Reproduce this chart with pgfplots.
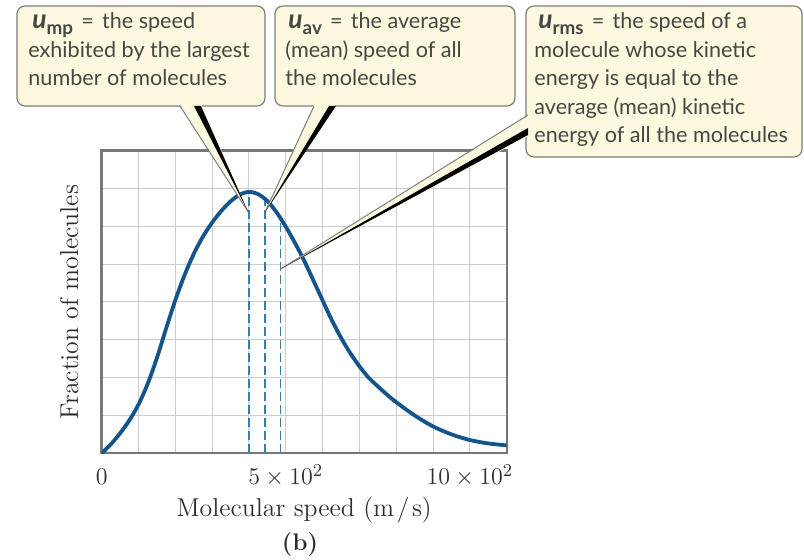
\documentclass[border=0pt]{standalone}
\usepackage{fontspec}
\usepackage{pgfplots}
\usepackage{pgfplotstable}
\pgfplotsset{compat=1.18}
\newfontfamily\lato{Lato}
\definecolor{curveblue}{RGB}{20,84,140}
\definecolor{dashblue}{RGB}{55,125,168}
\definecolor{gridgray}{RGB}{205,205,205}
\definecolor{framegray}{RGB}{120,120,120}
\definecolor{cream}{RGB}{252,249,222}
\definecolor{boxgray}{RGB}{125,125,125}
\definecolor{txtgray}{RGB}{70,70,70}
\definecolor{serifgray}{RGB}{45,45,45}

\pgfplotstableread{
x y
0 0
0.25 0.24
0.5 0.53
0.75 0.87
1 1.29
1.25 1.84
1.5 2.52
1.75 3.3
2 4.05
2.25 4.71
2.5 5.27
2.75 5.73
3 6.1
3.25 6.41
3.5 6.66
3.75 6.84
4 6.91
4.25 6.85
4.5 6.67
4.75 6.37
5 5.99
5.25 5.56
5.5 5.09
5.75 4.57
6 4.04
6.25 3.52
6.5 3.055
6.75 2.65
7 2.3
7.25 2.0
7.5 1.77
7.75 1.55
8 1.35
8.5 1.0
9 0.71
9.5 0.5
10 0.35
10.5 0.26
11 0.21
}\mbdata

\newcommand{\usym}[1]{{\fontsize{13.2}{14}\selectfont\bfseries\itshape u}{\fontsize{9.4}{10}\selectfont\raisebox{-0.28em}{\bfseries #1}}}
\newcommand{\eqs}{\hspace{0.38em}=\hspace{0.38em}}

\begin{document}
\begin{tikzpicture}
\begin{axis}[
  at={(0,0)}, anchor=south west,
  scale only axis, width=202.5pt, height=151.3pt,
  xmin=0, xmax=11, ymin=0, ymax=8,
  xtick={0,5,10},
  xticklabels={$0$,$5\times 10^2$,$10\times 10^2$},
  minor xtick={1,2,3,4,6,7,8,9},
  ytick={0,...,8}, yticklabels={},
  grid=both,
  major grid style={gridgray, line width=0.5pt},
  minor grid style={gridgray, line width=0.5pt},
  major tick length=0pt, minor tick length=0pt,
  axis line style={framegray, line width=1.2pt},
  tick label style={font=\fontsize{12.9}{15}\selectfont, text=serifgray},
  xticklabel style={anchor=base, yshift=-15.85pt, inner sep=0pt},
  xlabel={Molecular speed (m\kern0.1em/\kern0.1em s)},
  ylabel={Fraction of molecules},
  label style={font=\fontsize{12.9}{15}\selectfont, text=serifgray},
  xlabel style={at={(axis description cs:0.5,0)}, anchor=base, yshift=-31.85pt, inner sep=0pt},
  ylabel style={at={(axis description cs:-0.0585,0.5)}, anchor=base, inner sep=0pt},
]
\addplot[dashblue, line width=0.75pt, dash pattern=on 4.5pt off 2pt] coordinates {(4,0) (4,6.91)};
\addplot[dashblue, line width=0.75pt, dash pattern=on 4.5pt off 2pt] coordinates {(4.43,0) (4.43,6.74)};
\addplot[dashblue, line width=0.75pt, dash pattern=on 4.5pt off 2pt] coordinates {(4.85,0) (4.85,6.22)};
\addplot[curveblue, line width=1.9pt, smooth] table {\mbdata};
\coordinate (tipmp) at (axis cs:3.98,6.38);
\coordinate (tipav) at (axis cs:4.43,6.36);
\coordinate (tiprms) at (axis cs:4.84,4.86);
\end{axis}

\begin{scope}[shift={(-50.85pt,226.65pt)}, x=0.5pt, y=-0.5pt]
  % boxes
  \draw[boxgray, fill=cream, line width=0.6pt, rounded corners=4pt] (17,6) rectangle (265,106);
  \draw[boxgray, fill=cream, line width=0.6pt, rounded corners=4pt] (275,6) rectangle (515,106);
  \draw[boxgray, fill=cream, line width=0.6pt, rounded corners=4pt] (526,6) rectangle (802,157);
  % wedges
  \fill[cream] (180,104) -- (201,104) -- (tipmp) -- cycle;
  \draw[boxgray, line width=0.5pt] (180,106) -- (tipmp);
  \fill[black] (194,106) -- (201,106) -- (tipmp) -- cycle;

  \fill[cream] (314,104) -- (336,104) -- (tipav) -- cycle;
  \draw[boxgray, line width=0.5pt] (314,106) -- (tipav);
  \fill[black] (329,106) -- (336,106) -- (tipav) -- cycle;

  \fill[cream] (530,115) -- (530,135) -- (tiprms) -- cycle;
  \draw[boxgray, line width=0.5pt] (528,115) -- (tiprms);
  \fill[black] (528,128) -- (528,135) -- (tiprms) -- cycle;

  % callout texts
  \begin{scope}[every node/.style={anchor=base west, inner sep=0pt, text=txtgray, font=\lato\fontsize{10.8}{13}\selectfont}]
    \node at (32,29) {\usym{mp}\eqs the speed};
    \node at (28,57.5) {exhibited by the largest};
    \node at (28,86) {number of molecules};

    \node at (288,29) {\usym{av}\eqs the average};
    \node at (285,57.5) {(mean) speed of all};
    \node at (285,86) {the molecules};

    \node at (538,29) {\usym{rms}\eqs the speed of a};
    \node at (534,57.5) {molecule whose kinetic};
    \node at (534,86) {energy is equal to the};
    \node at (534,114.5) {average (mean) kinetic};
    \node at (534,143) {energy of all the molecules};
  \end{scope}

  \node[anchor=base, inner sep=0pt, text=serifgray, font=\bfseries\fontsize{12}{14}\selectfont] at (300,551) {(b)};
\end{scope}
\pgfresetboundingbox
\path[use as bounding box] (-50.85pt,226.65pt) rectangle ++(402pt,-280pt);
\end{tikzpicture}
\end{document}
